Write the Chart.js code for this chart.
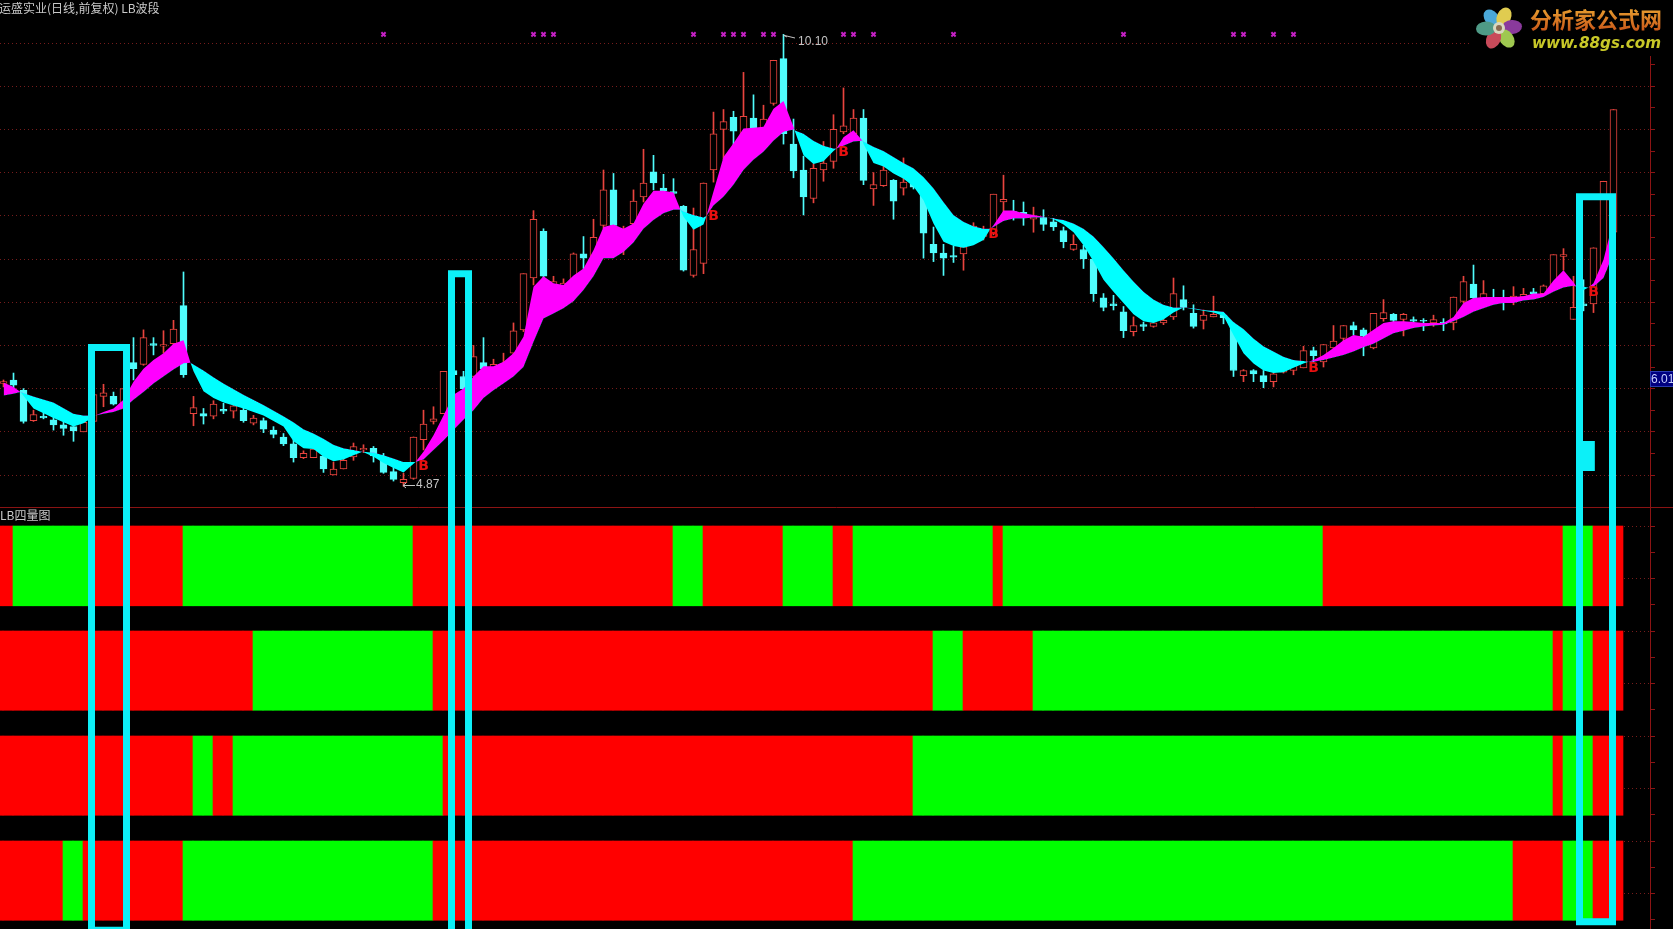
<!DOCTYPE html>
<html>
<head>
<meta charset="utf-8">
<title>LB波段</title>
<style>
  html, body { margin: 0; padding: 0; background: #000; overflow: hidden; }
  canvas { display: block; }
</style>
<script src="https://cdn.jsdelivr.net/npm/chart.js@4/dist/chart.umd.min.js"></script>
</head>
<body>
<canvas id="klineChart" width="1673" height="929"></canvas>
<script>
// daily candles (one entry per trading day)
const priceHigh = [6.10,6.18,6.00,5.75,5.74,5.68,5.62,5.56,5.64,5.94,
  6.05,5.96,6.00,6.59,6.68,6.59,6.67,6.79,7.35,5.91,
  5.77,5.86,5.83,5.87,5.83,5.69,5.66,5.56,5.48,5.41,
  5.28,5.33,5.33,5.15,5.25,5.37,5.35,5.33,5.25,5.10,
  5.02,5.44,5.75,5.79,6.20,6.21,6.20,6.50,6.59,6.34,
  6.41,6.76,7.33,8.06,7.85,7.30,7.27,7.57,7.76,7.96,
  8.53,8.49,7.88,8.30,8.77,8.70,8.48,8.43,8.12,8.09,
  8.38,9.20,9.23,9.21,9.66,9.40,9.28,9.80,10.10,9.12,
  8.69,8.60,8.86,9.17,9.48,9.23,9.23,8.50,8.61,8.42,
  8.67,8.45,8.30,7.87,7.67,7.65,7.72,7.92,7.88,8.25,
  8.47,8.18,8.16,8.10,8.07,7.97,7.87,7.78,7.66,7.52,
  7.10,7.08,6.95,6.83,6.77,6.81,6.81,7.28,7.19,6.97,
  6.91,7.07,6.87,6.76,6.22,6.22,6.21,6.20,6.30,6.32,
  6.49,6.48,6.51,6.73,6.73,6.77,6.70,6.87,7.03,6.87,
  6.87,6.83,6.81,6.85,6.81,7.06,7.30,7.43,7.25,7.15,
  7.14,7.18,7.16,7.16,7.20,7.55,7.62,7.30,7.26,7.63,
  8.40,9.23];
const bodyTop = [6.08,6.10,5.98,5.70,5.68,5.64,5.58,5.56,5.61,5.93,
  5.95,5.91,6.00,6.30,6.59,6.52,6.51,6.69,6.96,5.78,
  5.71,5.82,5.76,5.80,5.75,5.66,5.63,5.52,5.44,5.36,
  5.25,5.30,5.22,5.07,5.17,5.33,5.31,5.31,5.21,5.04,
  4.95,5.44,5.59,5.65,6.20,6.21,6.14,6.37,6.30,6.28,
  6.29,6.67,7.33,7.96,7.82,7.24,7.22,7.56,7.56,7.75,
  8.30,8.30,7.82,8.17,8.38,8.51,8.32,8.28,8.11,7.61,
  8.38,8.95,9.09,9.14,9.15,9.13,9.12,9.80,9.82,8.83,
  8.53,8.55,8.61,9.00,9.04,9.13,9.13,8.36,8.53,8.41,
  8.39,8.41,8.26,7.67,7.57,7.54,7.64,7.88,7.82,8.25,
  8.19,8.05,8.04,7.99,7.98,7.93,7.83,7.67,7.61,7.50,
  7.05,6.98,6.89,6.73,6.74,6.76,6.79,7.10,7.03,6.87,
  6.85,6.86,6.85,6.72,6.21,6.21,6.15,6.17,6.26,6.28,
  6.44,6.44,6.51,6.55,6.73,6.73,6.68,6.87,6.88,6.86,
  6.86,6.80,6.79,6.80,6.77,7.06,7.24,7.21,7.10,7.02,
  7.03,7.07,7.09,7.12,7.19,7.55,7.55,6.94,6.98,7.63,
  8.40,9.23];
const bodyBottom = [6.06,6.04,5.62,5.63,5.66,5.58,5.54,5.51,5.50,5.62,
  5.91,5.82,5.83,6.23,6.28,6.50,6.49,6.52,6.16,5.71,
  5.68,5.68,5.74,5.74,5.63,5.60,5.53,5.47,5.36,5.20,
  5.20,5.20,5.07,5.00,5.07,5.21,5.29,5.22,5.03,4.95,
  4.91,4.96,5.41,5.62,5.71,6.16,6.00,6.14,6.23,6.23,
  6.23,6.41,6.68,7.28,7.30,7.16,7.12,7.26,7.51,7.53,
  7.89,7.89,7.70,7.91,8.22,8.38,8.29,8.26,7.37,7.31,
  7.45,8.53,9.00,8.98,8.92,9.02,9.02,9.30,8.95,8.52,
  8.22,8.20,8.53,8.63,8.97,8.95,8.41,8.31,8.35,8.17,
  8.32,8.33,7.80,7.57,7.51,7.52,7.56,7.80,7.76,7.80,
  8.16,8.01,7.99,7.96,7.90,7.87,7.70,7.61,7.50,7.10,
  6.94,6.96,6.67,6.66,6.72,6.72,6.76,6.83,6.94,6.72,
  6.79,6.83,6.82,6.21,6.15,6.17,6.08,6.08,6.19,6.21,
  6.24,6.38,6.31,6.47,6.58,6.68,6.61,6.47,6.81,6.79,
  6.80,6.78,6.78,6.76,6.75,6.76,7.01,7.05,7.00,6.99,
  7.00,7.02,7.06,7.10,7.10,7.18,7.53,6.80,6.96,6.98,
  7.37,7.81];
const priceLow = [6.02,5.98,5.60,5.62,5.65,5.52,5.46,5.39,5.50,5.55,
  5.79,5.81,5.83,6.10,6.27,6.39,6.41,6.45,6.13,5.57,
  5.59,5.65,5.71,5.66,5.61,5.58,5.49,5.43,5.34,5.15,
  5.19,5.20,5.03,5.00,5.07,5.17,5.26,5.15,5.02,4.93,
  4.87,4.95,5.29,5.59,5.71,6.05,5.94,6.14,6.20,6.20,
  6.20,6.39,6.66,7.20,7.26,7.12,7.10,7.22,7.39,7.50,
  7.85,7.85,7.55,7.88,8.16,8.30,8.28,8.20,7.36,7.29,
  7.33,8.39,8.65,8.80,8.92,8.99,9.00,9.28,8.83,8.44,
  8.01,8.15,8.40,8.55,8.95,8.93,8.36,8.12,8.34,7.96,
  8.24,8.31,7.51,7.47,7.31,7.46,7.37,7.78,7.72,7.78,
  7.95,7.95,7.89,7.81,7.83,7.83,7.63,7.60,7.39,7.01,
  6.90,6.91,6.59,6.61,6.67,6.71,6.74,6.80,6.91,6.70,
  6.69,6.83,6.75,6.14,6.08,6.08,6.01,6.02,6.18,6.16,
  6.24,6.31,6.25,6.45,6.55,6.62,6.38,6.46,6.78,6.75,
  6.61,6.72,6.67,6.72,6.67,6.68,6.99,7.04,6.98,6.98,
  6.91,6.97,7.04,7.06,7.09,7.17,7.37,6.80,6.90,6.88,
  7.35,7.80];
const candleUp = [1,0,0,1,0,0,0,0,1,1,
  1,0,1,0,1,0,1,1,0,1,
  0,1,0,1,0,1,0,0,0,0,
  1,1,0,1,1,1,1,0,0,0,
  1,1,1,1,1,0,0,1,0,1,
  1,1,1,1,0,1,1,1,0,1,
  1,0,1,1,1,0,0,0,0,1,
  1,1,1,0,1,0,1,1,0,0,
  0,1,1,1,1,1,0,1,1,0,
  1,0,0,0,0,0,1,1,1,1,
  1,0,0,1,0,0,0,1,0,0,
  0,0,0,1,0,1,1,1,0,0,
  1,1,0,0,1,0,0,1,1,1,
  1,0,1,1,1,0,0,1,1,0,
  1,0,0,1,0,1,1,0,1,0,
  0,1,1,0,1,1,1,1,0,1,
  1,1];

// LB波段 ribbon: two averages, magenta where fast is above slow, cyan where below
const ribbonIdx = [0,1,1.7,3,5,7,8,9.2,10,11,12,13,14,15,16,17,18,18.7,19,20,21,22,24,26,28,29,30,31,32,33,34,35,35.9,37,38,39,40,41.2,
  42,43,44,45,46,47,48,49,50,51,52,53,54,55,56,57,58,59,60,61,62,63,64,65,66,67,67.7,68,69,70,70.3,
  71,72,73,74,75,76,77,78,79,79.1,80,81,82,83,83.3,84,85,85.9,86,87,88,89,90,91,92,93,94,95,96,97,98,98.7,
  99,100,101,102,103,104.4,105,106,107,108,109,110,111,112,113,114,115,116,117,118,119,120,121,122,123,124,125,126,127,128,129,130,130.5,
  131,132,133,134,135,136,137,138,139,140,141,142,143,144,145,146,147,148,149,150,151,152,153,154,155,156,157,157.3,158,158.5,159,160,161];
const ribbonFast = [6.07,6.02,5.96,5.77,5.66,5.56,5.60,5.69,5.73,5.77,5.87,6.08,6.23,6.33,6.41,6.52,6.56,6.30,6.20,5.97,5.89,5.84,5.77,5.69,5.56,5.39,5.31,5.30,5.21,5.16,5.18,5.23,5.27,5.21,5.14,5.08,5.03,5.15,
  5.27,5.46,5.69,5.93,6.00,6.14,6.26,6.26,6.31,6.41,6.60,7.18,7.30,7.22,7.20,7.31,7.39,7.60,7.87,7.90,7.85,7.91,8.14,8.29,8.29,8.27,8.07,7.99,7.84,7.90,8.00,
  8.28,8.68,8.84,9.01,9.02,9.03,9.24,9.33,9.03,8.99,8.70,8.60,8.63,8.75,8.78,8.91,8.99,8.87,8.83,8.61,8.57,8.49,8.43,8.34,8.18,7.91,7.70,7.65,7.63,7.66,7.72,7.85,
  7.89,8.06,8.06,8.03,8.01,7.98,7.96,7.90,7.81,7.66,7.47,7.26,7.12,6.99,6.86,6.78,6.76,6.80,6.88,6.94,6.92,6.90,6.88,6.84,6.62,6.41,6.29,6.21,6.18,6.19,6.24,6.29,6.31,
  6.33,6.39,6.47,6.56,6.62,6.60,6.68,6.76,6.78,6.78,6.77,6.76,6.76,6.76,6.83,6.99,7.05,7.06,7.06,7.06,7.06,7.07,7.10,7.10,7.25,7.37,7.23,7.18,7.14,7.17,7.22,7.49,7.95];
const ribbonSlow = [5.92,5.94,5.96,5.91,5.84,5.71,5.69,5.69,5.71,5.73,5.77,5.87,5.96,6.06,6.14,6.22,6.29,6.30,6.28,6.21,6.13,6.06,5.93,5.81,5.68,5.61,5.53,5.48,5.42,5.35,5.31,5.29,5.27,5.26,5.23,5.19,5.15,5.15,
  5.18,5.29,5.40,5.52,5.64,5.75,5.89,5.98,6.06,6.14,6.25,6.54,6.81,6.87,6.93,7.01,7.14,7.30,7.51,7.51,7.58,7.69,7.85,7.95,8.03,8.07,8.07,8.05,8.01,7.98,8.00,
  8.12,8.22,8.36,8.53,8.65,8.74,8.87,8.97,9.00,8.99,8.95,8.87,8.81,8.78,8.78,8.81,8.86,8.87,8.86,8.80,8.75,8.68,8.61,8.55,8.45,8.32,8.16,8.01,7.93,7.88,7.85,7.85,
  7.87,7.94,7.97,7.97,7.98,7.98,7.97,7.95,7.91,7.85,7.76,7.64,7.51,7.37,7.24,7.12,7.03,6.97,6.94,6.94,6.93,6.91,6.90,6.89,6.77,6.69,6.58,6.49,6.43,6.37,6.33,6.32,6.31,
  6.31,6.33,6.36,6.39,6.43,6.48,6.52,6.58,6.64,6.67,6.70,6.72,6.73,6.74,6.78,6.83,6.89,6.93,6.97,6.99,6.99,7.02,7.03,7.06,7.12,7.17,7.19,7.18,7.18,7.17,7.18,7.28,7.57];

// signal rows of LB四量图: candle index where each row flips, starting red
const bandFlips1 = [1,9,18,41,67,70,78,83,85,99,100,132,156,159,162];
const bandFlips2 = [25,43,93,96,103,155,156,159,162];
const bandFlips3 = [19,21,23,44,91,155,156,159,162];
const bandFlips4 = [6,8,18,43,85,151,156,159,162];
const bandTop = [4, 3, 2, 1];
const bandBottom = [3.24, 2.245, 1.245, 0.245];

// small magenta crosses along the top, and the B buy marks
const crossIdx = [38,53,54,55,69,72,73,74,76,77,84,85,87,95,112,123,124,127,129];
const crossPrice = 10.10;
const buyIdx = [42,71,84,99,131,159];
const buyPrice = [5.10,7.99,8.73,7.78,6.24,7.11];

// cyan boxes somebody drew over the screenshot
const box1Idx = [8.80,8.80,12.30,12.30,8.80];
const box1Price = [-0.27,6.476,6.476,-0.27,-0.27];
const box2Idx = [44.80,44.80,46.50,46.50,44.80];
const box2Price = [-0.32,7.33,7.33,-0.32,-0.32];
const box3Idx = [157.60,157.60,160.90,160.90,157.60];
const box3Price = [-0.17,8.22,8.22,-0.17,-0.17];
const boxBlockIdx = [158.4];
const boxBlockPrice = [[5.05, 5.39]];

const priceTicks = [5,5.25,5.5,5.75,6,6.25,6.5,6.75,7,7.25,7.5,7.75,8,8.25,8.5,8.75,9,9.25,9.5,9.75,10];
const bandTicks = [0.25,0.5,0.75,1,1.25,1.5,1.75,2,2.25,2.5,2.75,3,3.25,3.5,3.75,4];

const RED = '#ff0000';
const GREEN = '#00ff00';
const UP_LINE = '#e8443e';
const DOWN_FILL = '#4ffcfc';
const BOX = '#0cf0f8';

function bandCells(flips, row) {
  const cells = [];
  let start = -1;
  flips.forEach((end, n) => {
    for (let i = start; i < end; i++) {
      cells.push({ x: i + 0.45, y: [bandBottom[row], bandTop[row]], color: n % 2 ? GREEN : RED });
    }
    start = end;
  });
  return cells;
}

function bandDataset(flips, row) {
  const cells = bandCells(flips, row);
  return {
    type: 'bar', yAxisID: 'yBand', order: 9, grouped: false, barThickness: 10,
    data: cells.map(c => ({ x: c.x, y: c.y })),
    backgroundColor: cells.map(c => c.color),
    borderWidth: 0
  };
}

function boxDataset(xs, ys) {
  return {
    type: 'line', order: 1, clip: false,
    data: xs.map((x, i) => ({ x: x, y: ys[i] })),
    borderColor: BOX, borderWidth: 7, borderJoinStyle: 'miter', borderCapStyle: 'square',
    pointRadius: 0, fill: false, tension: 0
  };
}

const days = priceHigh.map((v, i) => i);

const datasets = [
  boxDataset(box1Idx, box1Price),
  boxDataset(box2Idx, box2Price),
  boxDataset(box3Idx, box3Price),
  {
    type: 'bar', order: 1, grouped: false, barThickness: 14,
    data: boxBlockIdx.map((x, i) => ({ x: x, y: boxBlockPrice[i] })),
    backgroundColor: BOX, borderWidth: 0
  },
  {
    type: 'line', order: 3,
    data: crossIdx.map(x => ({ x: x, y: crossPrice })),
    showLine: false, pointStyle: 'crossRot', pointRadius: 3, pointBorderWidth: 2,
    pointBorderColor: '#c420c4', pointBackgroundColor: '#c420c4'
  },
  {
    type: 'line', order: 4,
    data: ribbonIdx.map((x, i) => ({ x: x, y: ribbonFast[i] })),
    borderWidth: 0, pointRadius: 0, tension: 0,
    fill: { target: '+1', above: '#ff00ff', below: '#00ffff' }
  },
  {
    type: 'line', order: 4,
    data: ribbonIdx.map((x, i) => ({ x: x, y: ribbonSlow[i] })),
    borderWidth: 0, pointRadius: 0, tension: 0, fill: false
  },
  {
    type: 'bar', order: 6, grouped: false, barThickness: 7, borderSkipped: false,
    data: days.map(i => ({ x: i, y: [bodyBottom[i], bodyTop[i]] })),
    backgroundColor: days.map(i => candleUp[i] ? '#000000' : DOWN_FILL),
    borderColor: days.map(i => candleUp[i] ? UP_LINE : DOWN_FILL),
    borderWidth: 1
  },
  {
    type: 'bar', order: 7, grouped: false, barThickness: 1,
    data: days.map(i => ({ x: i, y: [priceLow[i], priceHigh[i]] })),
    backgroundColor: days.map(i => candleUp[i] ? UP_LINE : DOWN_FILL),
    borderWidth: 0
  },
  bandDataset(bandFlips1, 0),
  bandDataset(bandFlips2, 1),
  bandDataset(bandFlips3, 2),
  bandDataset(bandFlips4, 3),
  {
    type: 'line', order: 2, yAxisID: 'yBand', clip: false,
    data: [{ x: -0.35, y: 4.176 }, { x: 166.95, y: 4.176 }],
    borderColor: '#8c1414', borderWidth: 1, pointRadius: 0
  }
];

// texts and the site logo go straight on the canvas
const chartTexts = {
  id: 'chartTexts',
  afterDraw(chart) {
    const ctx = chart.ctx;
    const xs = chart.scales.x;
    const ys = chart.scales.y;
    ctx.save();
    ctx.textBaseline = 'middle';
    ctx.textAlign = 'left';

    ctx.fillStyle = '#c9c9c9';
    ctx.font = '12px "Noto Sans CJK SC"';
    ctx.fillText('运盛实业(日线,前复权) LB波段', -1, 8);
    ctx.fillText('LB四量图', 0, 515);

    ctx.font = '12px "Liberation Sans"';
    ctx.fillStyle = '#c4c4c4';
    ctx.fillText('10.10', 798, 42);
    ctx.fillText('4.87', 416, 485);
    ctx.strokeStyle = '#c4c4c4';
    ctx.lineWidth = 1;
    ctx.beginPath();
    ctx.moveTo(xs.getPixelForValue(78), ys.getPixelForValue(10.09));
    ctx.lineTo(795, 38);
    ctx.moveTo(xs.getPixelForValue(78), ys.getPixelForValue(10.09));
    ctx.lineTo(787, 37);
    ctx.moveTo(403, 485.5);
    ctx.lineTo(415, 485.5);
    ctx.moveTo(403, 485.5);
    ctx.lineTo(406, 483);
    ctx.moveTo(403, 485.5);
    ctx.lineTo(406, 488);
    ctx.stroke();

    ctx.fillStyle = '#e81010';
    ctx.font = 'bold 14px "DejaVu Sans"';
    ctx.textAlign = 'center';
    buyIdx.forEach((idx, i) => {
      ctx.fillText('B', xs.getPixelForValue(idx), ys.getPixelForValue(buyPrice[i]));
    });

    ctx.textAlign = 'left';
    ctx.fillStyle = '#000080';
    ctx.fillRect(1650, 371, 23, 16);
    ctx.strokeStyle = '#2a3ab0';
    ctx.strokeRect(1650.5, 371.5, 23, 15);
    ctx.fillStyle = '#c8d0ff';
    ctx.font = '12px "Liberation Sans"';
    ctx.fillText('6.01', 1651, 379.5);

    // logo
    ctx.fillStyle = '#000000';
    ctx.fillRect(1472, 0, 201, 56);
    const petals = [['#4aa8d8', -0.72, -0.95], ['#e0cc50', 0.5, -1.1], ['#8a3a9c', 1.3, -0.1],
      ['#9fc850', 0.75, 1.05], ['#c84a5a', -0.55, 1.1], ['#4f9a86', -1.3, 0.05]];
    petals.forEach(p => {
      ctx.fillStyle = p[0];
      ctx.beginPath();
      ctx.ellipse(1499 + p[1] * 10, 28 + p[2] * 10, 10, 7, Math.atan2(p[2], p[1]), 0, Math.PI * 2);
      ctx.fill();
    });
    ctx.fillStyle = '#d8d8c0';
    ctx.beginPath();
    ctx.arc(1499, 28, 6, 0, Math.PI * 2);
    ctx.fill();
    ctx.fillStyle = '#8a6a50';
    ctx.beginPath();
    ctx.arc(1499, 28, 3, 0, Math.PI * 2);
    ctx.fill();

    ctx.font = 'bold 22px "Noto Sans CJK SC"';
    const grad = ctx.createLinearGradient(0, 8, 0, 32);
    grad.addColorStop(0, '#e8a030');
    grad.addColorStop(1, '#c85418');
    ctx.fillStyle = grad;
    ctx.fillText('分析家公式网', 1530, 20);
    ctx.font = 'italic bold 15.2px "DejaVu Sans"';
    ctx.fillStyle = '#c8c828';
    ctx.fillText('www.88gs.com', 1532, 44);
    ctx.restore();
  }
};

new Chart(document.getElementById('klineChart'), {
  type: 'bar',
  data: { datasets: datasets },
  plugins: [chartTexts],
  options: {
    responsive: false,
    animation: false,
    layout: { padding: 0, autoPadding: false },
    plugins: { legend: { display: false }, tooltip: { enabled: false }, title: { display: false } },
    scales: {
      x: { type: 'linear', display: false, offset: false, min: -0.35, max: 164.65, grid: { display: false } },
      y: {
        type: 'linear', position: 'right', stack: 'panels', stackWeight: 507, weight: 0,
        min: 4.6297, max: 10.4977,
        afterBuildTicks(scale) { scale.ticks = priceTicks.map(v => ({ value: v })); },
        afterFit(scale) { scale.width = 23; },
        ticks: { display: false },
        border: { display: true, color: '#8c1414', dash: [1, 3] },
        grid: {
          color: c => (c.tick && c.tick.value % 0.5 === 0 ? '#761c1c' : 'rgba(0,0,0,0)'),
          tickColor: '#8c1414', tickLength: 5, tickBorderDash: []
        }
      },
      yBand: {
        type: 'linear', position: 'right', stack: 'panels', stackWeight: 422, weight: 1,
        min: 0.1619, max: 4.181,
        afterBuildTicks(scale) { scale.ticks = bandTicks.map(v => ({ value: v })); },
        afterFit(scale) { scale.width = 23; },
        ticks: { display: false },
        border: { display: true, color: '#8c1414', dash: [1, 3] },
        grid: {
          color: c => (c.tick && c.tick.value % 0.5 === 0 ? '#761c1c' : 'rgba(0,0,0,0)'),
          tickColor: '#8c1414', tickLength: 5, tickBorderDash: []
        }
      }
    }
  }
});
</script>
</body>
</html>
